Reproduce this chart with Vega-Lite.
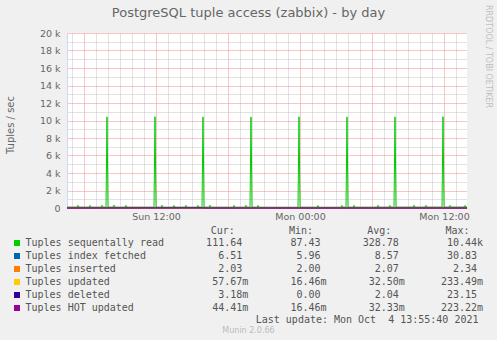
{
  "$schema": "https://vega.github.io/schema/vega-lite/v6.json",
  "width": 400,
  "height": 175,
  "autosize": {"type": "none"},
  "padding": {"left": 67, "top": 33, "right": 30, "bottom": 132},
  "background": "#f0f0f0",
  "config": {"view": {"fill": "white", "stroke": null}, "font": "DejaVu Sans"},
  "title": {
    "text": "PostgreSQL tuple access (zabbix) - by day",
    "font": "DejaVu Sans", "fontSize": 13, "fontWeight": "normal", "color": "#666666",
    "frame": "group", "anchor": "middle", "dx": -18.5, "offset": -16
  },
  "data": {"values": [
    {"time": "2021-10-03T04:35:00Z", "series": "Tuples sequentally read", "value": 108},
    {"time": "2021-10-03T05:25:00Z", "series": "Tuples sequentally read", "value": 102},
    {"time": "2021-10-03T05:30:00Z", "series": "Tuples sequentally read", "value": 310},
    {"time": "2021-10-03T05:35:00Z", "series": "Tuples sequentally read", "value": 104},
    {"time": "2021-10-03T06:25:00Z", "series": "Tuples sequentally read", "value": 99},
    {"time": "2021-10-03T06:30:00Z", "series": "Tuples sequentally read", "value": 295},
    {"time": "2021-10-03T06:35:00Z", "series": "Tuples sequentally read", "value": 101},
    {"time": "2021-10-03T07:25:00Z", "series": "Tuples sequentally read", "value": 103},
    {"time": "2021-10-03T07:30:00Z", "series": "Tuples sequentally read", "value": 320},
    {"time": "2021-10-03T07:35:00Z", "series": "Tuples sequentally read", "value": 100},
    {"time": "2021-10-03T07:50:00Z", "series": "Tuples sequentally read", "value": 98},
    {"time": "2021-10-03T07:55:00Z", "series": "Tuples sequentally read", "value": 10420},
    {"time": "2021-10-03T08:00:00Z", "series": "Tuples sequentally read", "value": 112},
    {"time": "2021-10-03T08:25:00Z", "series": "Tuples sequentally read", "value": 104},
    {"time": "2021-10-03T08:30:00Z", "series": "Tuples sequentally read", "value": 330},
    {"time": "2021-10-03T08:35:00Z", "series": "Tuples sequentally read", "value": 101},
    {"time": "2021-10-03T09:25:00Z", "series": "Tuples sequentally read", "value": 97},
    {"time": "2021-10-03T09:30:00Z", "series": "Tuples sequentally read", "value": 300},
    {"time": "2021-10-03T09:35:00Z", "series": "Tuples sequentally read", "value": 99},
    {"time": "2021-10-03T11:50:00Z", "series": "Tuples sequentally read", "value": 101},
    {"time": "2021-10-03T11:55:00Z", "series": "Tuples sequentally read", "value": 10440},
    {"time": "2021-10-03T12:00:00Z", "series": "Tuples sequentally read", "value": 109},
    {"time": "2021-10-03T12:25:00Z", "series": "Tuples sequentally read", "value": 100},
    {"time": "2021-10-03T12:30:00Z", "series": "Tuples sequentally read", "value": 315},
    {"time": "2021-10-03T12:35:00Z", "series": "Tuples sequentally read", "value": 98},
    {"time": "2021-10-03T13:25:00Z", "series": "Tuples sequentally read", "value": 96},
    {"time": "2021-10-03T13:30:00Z", "series": "Tuples sequentally read", "value": 290},
    {"time": "2021-10-03T13:35:00Z", "series": "Tuples sequentally read", "value": 99},
    {"time": "2021-10-03T14:25:00Z", "series": "Tuples sequentally read", "value": 102},
    {"time": "2021-10-03T14:30:00Z", "series": "Tuples sequentally read", "value": 305},
    {"time": "2021-10-03T14:35:00Z", "series": "Tuples sequentally read", "value": 100},
    {"time": "2021-10-03T15:25:00Z", "series": "Tuples sequentally read", "value": 98},
    {"time": "2021-10-03T15:30:00Z", "series": "Tuples sequentally read", "value": 300},
    {"time": "2021-10-03T15:35:00Z", "series": "Tuples sequentally read", "value": 97},
    {"time": "2021-10-03T15:50:00Z", "series": "Tuples sequentally read", "value": 99},
    {"time": "2021-10-03T15:55:00Z", "series": "Tuples sequentally read", "value": 10410},
    {"time": "2021-10-03T16:00:00Z", "series": "Tuples sequentally read", "value": 108},
    {"time": "2021-10-03T16:25:00Z", "series": "Tuples sequentally read", "value": 101},
    {"time": "2021-10-03T16:30:00Z", "series": "Tuples sequentally read", "value": 320},
    {"time": "2021-10-03T16:35:00Z", "series": "Tuples sequentally read", "value": 100},
    {"time": "2021-10-03T18:25:00Z", "series": "Tuples sequentally read", "value": 95},
    {"time": "2021-10-03T18:30:00Z", "series": "Tuples sequentally read", "value": 300},
    {"time": "2021-10-03T18:35:00Z", "series": "Tuples sequentally read", "value": 98},
    {"time": "2021-10-03T19:25:00Z", "series": "Tuples sequentally read", "value": 97},
    {"time": "2021-10-03T19:30:00Z", "series": "Tuples sequentally read", "value": 310},
    {"time": "2021-10-03T19:35:00Z", "series": "Tuples sequentally read", "value": 96},
    {"time": "2021-10-03T19:50:00Z", "series": "Tuples sequentally read", "value": 98},
    {"time": "2021-10-03T19:55:00Z", "series": "Tuples sequentally read", "value": 10400},
    {"time": "2021-10-03T20:00:00Z", "series": "Tuples sequentally read", "value": 106},
    {"time": "2021-10-03T20:25:00Z", "series": "Tuples sequentally read", "value": 94},
    {"time": "2021-10-03T20:30:00Z", "series": "Tuples sequentally read", "value": 295},
    {"time": "2021-10-03T20:35:00Z", "series": "Tuples sequentally read", "value": 92},
    {"time": "2021-10-03T23:50:00Z", "series": "Tuples sequentally read", "value": 88},
    {"time": "2021-10-03T23:55:00Z", "series": "Tuples sequentally read", "value": 10430},
    {"time": "2021-10-04T00:00:00Z", "series": "Tuples sequentally read", "value": 102},
    {"time": "2021-10-04T01:25:00Z", "series": "Tuples sequentally read", "value": 90},
    {"time": "2021-10-04T01:30:00Z", "series": "Tuples sequentally read", "value": 290},
    {"time": "2021-10-04T01:35:00Z", "series": "Tuples sequentally read", "value": 87.43},
    {"time": "2021-10-04T03:25:00Z", "series": "Tuples sequentally read", "value": 92},
    {"time": "2021-10-04T03:30:00Z", "series": "Tuples sequentally read", "value": 300},
    {"time": "2021-10-04T03:35:00Z", "series": "Tuples sequentally read", "value": 93},
    {"time": "2021-10-04T03:50:00Z", "series": "Tuples sequentally read", "value": 95},
    {"time": "2021-10-04T03:55:00Z", "series": "Tuples sequentally read", "value": 10410},
    {"time": "2021-10-04T04:00:00Z", "series": "Tuples sequentally read", "value": 104},
    {"time": "2021-10-04T04:25:00Z", "series": "Tuples sequentally read", "value": 96},
    {"time": "2021-10-04T04:30:00Z", "series": "Tuples sequentally read", "value": 305},
    {"time": "2021-10-04T04:35:00Z", "series": "Tuples sequentally read", "value": 97},
    {"time": "2021-10-04T06:25:00Z", "series": "Tuples sequentally read", "value": 99},
    {"time": "2021-10-04T06:30:00Z", "series": "Tuples sequentally read", "value": 310},
    {"time": "2021-10-04T06:35:00Z", "series": "Tuples sequentally read", "value": 101},
    {"time": "2021-10-04T07:25:00Z", "series": "Tuples sequentally read", "value": 103},
    {"time": "2021-10-04T07:30:00Z", "series": "Tuples sequentally read", "value": 300},
    {"time": "2021-10-04T07:35:00Z", "series": "Tuples sequentally read", "value": 102},
    {"time": "2021-10-04T07:50:00Z", "series": "Tuples sequentally read", "value": 100},
    {"time": "2021-10-04T07:55:00Z", "series": "Tuples sequentally read", "value": 10420},
    {"time": "2021-10-04T08:00:00Z", "series": "Tuples sequentally read", "value": 110},
    {"time": "2021-10-04T09:25:00Z", "series": "Tuples sequentally read", "value": 104},
    {"time": "2021-10-04T09:30:00Z", "series": "Tuples sequentally read", "value": 320},
    {"time": "2021-10-04T09:35:00Z", "series": "Tuples sequentally read", "value": 105},
    {"time": "2021-10-04T10:25:00Z", "series": "Tuples sequentally read", "value": 106},
    {"time": "2021-10-04T10:30:00Z", "series": "Tuples sequentally read", "value": 310},
    {"time": "2021-10-04T10:35:00Z", "series": "Tuples sequentally read", "value": 107},
    {"time": "2021-10-04T11:50:00Z", "series": "Tuples sequentally read", "value": 108},
    {"time": "2021-10-04T11:55:00Z", "series": "Tuples sequentally read", "value": 10440},
    {"time": "2021-10-04T12:00:00Z", "series": "Tuples sequentally read", "value": 115},
    {"time": "2021-10-04T12:25:00Z", "series": "Tuples sequentally read", "value": 109},
    {"time": "2021-10-04T12:30:00Z", "series": "Tuples sequentally read", "value": 300},
    {"time": "2021-10-04T12:35:00Z", "series": "Tuples sequentally read", "value": 110},
    {"time": "2021-10-04T13:40:00Z", "series": "Tuples sequentally read", "value": 111},
    {"time": "2021-10-04T13:45:00Z", "series": "Tuples sequentally read", "value": 300},
    {"time": "2021-10-04T13:50:00Z", "series": "Tuples sequentally read", "value": 112},
    {"time": "2021-10-04T13:55:00Z", "series": "Tuples sequentally read", "value": 111.64},
    {"time": "2021-10-03T04:35:00Z", "series": "Tuples index fetched", "value": 7.4},
    {"time": "2021-10-03T07:55:00Z", "series": "Tuples index fetched", "value": 30.83},
    {"time": "2021-10-03T08:00:00Z", "series": "Tuples index fetched", "value": 8.1},
    {"time": "2021-10-03T14:00:00Z", "series": "Tuples index fetched", "value": 8.6},
    {"time": "2021-10-03T20:00:00Z", "series": "Tuples index fetched", "value": 7.9},
    {"time": "2021-10-04T02:00:00Z", "series": "Tuples index fetched", "value": 8.9},
    {"time": "2021-10-04T08:00:00Z", "series": "Tuples index fetched", "value": 8.3},
    {"time": "2021-10-04T13:55:00Z", "series": "Tuples index fetched", "value": 6.51},
    {"time": "2021-10-03T04:35:00Z", "series": "Tuples inserted", "value": 2.05},
    {"time": "2021-10-03T12:00:00Z", "series": "Tuples inserted", "value": 2.1},
    {"time": "2021-10-03T20:00:00Z", "series": "Tuples inserted", "value": 2.34},
    {"time": "2021-10-04T04:00:00Z", "series": "Tuples inserted", "value": 2.0},
    {"time": "2021-10-04T13:55:00Z", "series": "Tuples inserted", "value": 2.03},
    {"time": "2021-10-03T04:35:00Z", "series": "Tuples updated", "value": 0.03},
    {"time": "2021-10-03T11:55:00Z", "series": "Tuples updated", "value": 0.233},
    {"time": "2021-10-03T18:00:00Z", "series": "Tuples updated", "value": 0.02},
    {"time": "2021-10-04T04:00:00Z", "series": "Tuples updated", "value": 0.016},
    {"time": "2021-10-04T13:55:00Z", "series": "Tuples updated", "value": 0.0577},
    {"time": "2021-10-03T04:35:00Z", "series": "Tuples deleted", "value": 0.002},
    {"time": "2021-10-03T15:55:00Z", "series": "Tuples deleted", "value": 23.15},
    {"time": "2021-10-03T16:00:00Z", "series": "Tuples deleted", "value": 0.0},
    {"time": "2021-10-04T04:00:00Z", "series": "Tuples deleted", "value": 0.001},
    {"time": "2021-10-04T13:55:00Z", "series": "Tuples deleted", "value": 0.00318},
    {"time": "2021-10-03T04:35:00Z", "series": "Tuples HOT updated", "value": 0.03},
    {"time": "2021-10-03T11:55:00Z", "series": "Tuples HOT updated", "value": 0.223},
    {"time": "2021-10-03T18:00:00Z", "series": "Tuples HOT updated", "value": 0.02},
    {"time": "2021-10-04T04:00:00Z", "series": "Tuples HOT updated", "value": 0.016},
    {"time": "2021-10-04T13:55:00Z", "series": "Tuples HOT updated", "value": 0.0444}
  ]},
  "layer": [
    {
      "mark": {"type": "point", "opacity": 0},
      "encoding": {
        "x": {
          "field": "time", "type": "temporal",
          "scale": {"type": "utc", "nice": false, "domain": [{"year": 2021, "month": 10, "date": 3, "hours": 4, "minutes": 35, "utc": true}, {"year": 2021, "month": 10, "date": 4, "hours": 13, "minutes": 55, "utc": true}]},
          "axis": {
            "orient": "bottom", "grid": true, "gridColor": "#c4c4c4", "gridDash": [1, 1], "gridWidth": 1,
            "labels": false, "ticks": false, "domain": false,
            "values": [
              {"year": 2021, "month": 10, "date": 3, "hours": 5, "utc": true},
              {"year": 2021, "month": 10, "date": 3, "hours": 7, "utc": true},
              {"year": 2021, "month": 10, "date": 3, "hours": 8, "utc": true},
              {"year": 2021, "month": 10, "date": 3, "hours": 9, "utc": true},
              {"year": 2021, "month": 10, "date": 3, "hours": 10, "utc": true},
              {"year": 2021, "month": 10, "date": 3, "hours": 11, "utc": true},
              {"year": 2021, "month": 10, "date": 3, "hours": 13, "utc": true},
              {"year": 2021, "month": 10, "date": 3, "hours": 14, "utc": true},
              {"year": 2021, "month": 10, "date": 3, "hours": 15, "utc": true},
              {"year": 2021, "month": 10, "date": 3, "hours": 16, "utc": true},
              {"year": 2021, "month": 10, "date": 3, "hours": 17, "utc": true},
              {"year": 2021, "month": 10, "date": 3, "hours": 19, "utc": true},
              {"year": 2021, "month": 10, "date": 3, "hours": 20, "utc": true},
              {"year": 2021, "month": 10, "date": 3, "hours": 21, "utc": true},
              {"year": 2021, "month": 10, "date": 3, "hours": 22, "utc": true},
              {"year": 2021, "month": 10, "date": 3, "hours": 23, "utc": true},
              {"year": 2021, "month": 10, "date": 4, "hours": 1, "utc": true},
              {"year": 2021, "month": 10, "date": 4, "hours": 2, "utc": true},
              {"year": 2021, "month": 10, "date": 4, "hours": 3, "utc": true},
              {"year": 2021, "month": 10, "date": 4, "hours": 4, "utc": true},
              {"year": 2021, "month": 10, "date": 4, "hours": 5, "utc": true},
              {"year": 2021, "month": 10, "date": 4, "hours": 7, "utc": true},
              {"year": 2021, "month": 10, "date": 4, "hours": 8, "utc": true},
              {"year": 2021, "month": 10, "date": 4, "hours": 9, "utc": true},
              {"year": 2021, "month": 10, "date": 4, "hours": 10, "utc": true},
              {"year": 2021, "month": 10, "date": 4, "hours": 11, "utc": true},
              {"year": 2021, "month": 10, "date": 4, "hours": 13, "utc": true}
            ],
            "title": "Munin 2.0.66", "titleX": 181, "titleY": 122, "titleAlign": "center", "titleBaseline": "middle",
            "titleFont": "DejaVu Sans", "titleFontSize": 8, "titleFontWeight": "normal", "titleColor": "#bbbbbb"
          }
        },
        "y": {
          "field": "value", "type": "quantitative",
          "scale": {"domain": [0, 20000], "nice": false, "zero": true},
          "axis": {
            "orient": "left", "grid": true, "gridColor": "#c4c4c4", "gridDash": [1, 1], "gridWidth": 1,
            "labels": false, "ticks": false, "domain": false, "title": null,
            "values": [1000, 3000, 5000, 7000, 9000, 11000, 13000, 15000, 17000, 19000]
          }
        }
      }
    },
    {
      "mark": {"type": "point", "opacity": 0},
      "encoding": {
        "x": {
          "field": "time", "type": "temporal",
          "scale": {"type": "utc", "nice": false, "domain": [{"year": 2021, "month": 10, "date": 3, "hours": 4, "minutes": 35, "utc": true}, {"year": 2021, "month": 10, "date": 4, "hours": 13, "minutes": 55, "utc": true}]},
          "axis": {
            "orient": "bottom", "grid": true, "gridColor": "#f08c8c", "gridDash": [1, 1], "gridWidth": 1,
            "labels": false, "ticks": false, "domain": false,
            "values": [
              {"year": 2021, "month": 10, "date": 3, "hours": 6, "utc": true},
              {"year": 2021, "month": 10, "date": 3, "hours": 12, "utc": true},
              {"year": 2021, "month": 10, "date": 3, "hours": 18, "utc": true},
              {"year": 2021, "month": 10, "date": 4, "hours": 0, "utc": true},
              {"year": 2021, "month": 10, "date": 4, "hours": 6, "utc": true},
              {"year": 2021, "month": 10, "date": 4, "hours": 12, "utc": true}
            ],
            "title": "Last update: Mon Oct\u00a0\u00a04 13:55:40 2021", "titleX": 411, "titleY": 111, "titleAlign": "right", "titleBaseline": "middle",
            "titleFont": "DejaVu Sans Mono", "titleFontSize": 10, "titleFontWeight": "normal", "titleColor": "#555555"
          }
        },
        "y": {
          "field": "value", "type": "quantitative",
          "scale": {"domain": [0, 20000], "nice": false, "zero": true},
          "axis": {
            "orient": "left", "grid": true, "gridColor": "#f08c8c", "gridDash": [1, 1], "gridWidth": 1,
            "values": [0, 2000, 4000, 6000, 8000, 10000, 12000, 14000, 16000, 18000, 20000],
            "labelExpr": "datum.value == 0 ? '0' : (datum.value / 1000) + ' k'",
            "labelFont": "DejaVu Sans", "labelFontSize": 9.5, "labelColor": "#666666", "labelPadding": 7,
            "ticks": false, "domain": true, "domainColor": "#cfd6f8", "domainWidth": 1,
            "title": "Tuples / sec", "titleX": -57, "titleY": 91.5, "titleAngle": 270, "titleAlign": "center", "titleBaseline": "middle",
            "titleFont": "DejaVu Sans", "titleFontSize": 10, "titleFontWeight": "normal", "titleColor": "#666666"
          }
        }
      }
    },
    {
      "mark": {"type": "line", "strokeWidth": 1},
      "encoding": {
        "x": {
          "field": "time", "type": "temporal",
          "scale": {"type": "utc", "nice": false, "domain": [{"year": 2021, "month": 10, "date": 3, "hours": 4, "minutes": 35, "utc": true}, {"year": 2021, "month": 10, "date": 4, "hours": 13, "minutes": 55, "utc": true}]},
          "axis": {
            "orient": "bottom", "grid": false, "ticks": false,
            "values": [
              {"year": 2021, "month": 10, "date": 3, "hours": 12, "utc": true},
              {"year": 2021, "month": 10, "date": 4, "hours": 0, "utc": true},
              {"year": 2021, "month": 10, "date": 4, "hours": 12, "utc": true}
            ],
            "labelExpr": "utcFormat(datum.value, '%a %H:%M')",
            "labelFont": "DejaVu Sans", "labelFontSize": 9.5, "labelColor": "#666666", "labelPadding": 3, "labelFlush": false, "labelOverlap": false,
            "domain": true, "domainColor": "#cfd6f8", "domainWidth": 1,
            "title": null
          }
        },
        "y": {
          "field": "value", "type": "quantitative",
          "scale": {"domain": [0, 20000], "nice": false, "zero": true},
          "axis": {
            "orient": "right", "grid": false, "labels": false, "ticks": false, "domain": false,
            "title": "RRDTOOL / TOBI OETIKER", "titleX": 20, "titleY": 23, "titleAngle": 90, "titleAlign": "center", "titleBaseline": "middle",
            "titleFont": "DejaVu Sans", "titleFontSize": 8, "titleFontWeight": "normal", "titleColor": "#bfbfbf"
          }
        },
        "color": {
          "field": "series", "type": "nominal",
          "scale": {
            "domain": ["Tuples sequentally read", "Tuples index fetched", "Tuples inserted", "Tuples updated", "Tuples deleted", "Tuples HOT updated"],
            "range": ["#00cc00", "#0066b3", "#ff8000", "#ffcc00", "#330099", "#990099"]
          },
          "legend": {
            "orient": "none", "legendX": -55, "legendY": 193, "direction": "vertical", "padding": 0,
            "title": "\u200b\u00a0\u00a0\u00a0\u00a0\u00a0\u00a0\u00a0\u00a0\u00a0\u00a0\u00a0\u00a0\u00a0\u00a0\u00a0\u00a0\u00a0\u00a0\u00a0\u00a0\u00a0\u00a0\u00a0\u00a0\u00a0\u00a0\u00a0\u00a0\u00a0\u00a0\u00a0\u00a0\u00a0Cur:\u00a0\u00a0\u00a0\u00a0\u00a0\u00a0\u00a0\u00a0\u00a0Min:\u00a0\u00a0\u00a0\u00a0\u00a0\u00a0\u00a0\u00a0\u00a0Avg:\u00a0\u00a0\u00a0\u00a0\u00a0\u00a0\u00a0\u00a0\u00a0Max:",
            "titleFont": "DejaVu Sans Mono", "titleFontSize": 10, "titleFontWeight": "normal", "titleColor": "#555555", "titleLimit": 1000, "titlePadding": 2,
            "labelFont": "DejaVu Sans Mono", "labelFontSize": 10, "labelColor": "#555555", "labelLimit": 1000, "labelOffset": 3.5,
            "symbolType": "square", "symbolSize": 9, "symbolStrokeWidth": 3, "symbolOpacity": 1, "rowPadding": -6,
            "labelExpr": "datum.label + (datum.label == 'Tuples sequentally read' ? '\u00a0\u00a0\u00a0\u00a0\u00a0\u00a0\u00a0111.64\u00a0\u00a0\u00a0\u00a0\u00a0\u00a0\u00a0\u00a087.43\u00a0\u00a0\u00a0\u00a0\u00a0\u00a0\u00a0328.78\u00a0\u00a0\u00a0\u00a0\u00a0\u00a0\u00a0\u00a010.44k' : datum.label == 'Tuples index fetched' ? '\u00a0\u00a0\u00a0\u00a0\u00a0\u00a0\u00a0\u00a0\u00a0\u00a0\u00a0\u00a06.51\u00a0\u00a0\u00a0\u00a0\u00a0\u00a0\u00a0\u00a0\u00a05.96\u00a0\u00a0\u00a0\u00a0\u00a0\u00a0\u00a0\u00a0\u00a08.57\u00a0\u00a0\u00a0\u00a0\u00a0\u00a0\u00a0\u00a030.83' : datum.label == 'Tuples inserted' ? '\u00a0\u00a0\u00a0\u00a0\u00a0\u00a0\u00a0\u00a0\u00a0\u00a0\u00a0\u00a0\u00a0\u00a0\u00a0\u00a0\u00a02.03\u00a0\u00a0\u00a0\u00a0\u00a0\u00a0\u00a0\u00a0\u00a02.00\u00a0\u00a0\u00a0\u00a0\u00a0\u00a0\u00a0\u00a0\u00a02.07\u00a0\u00a0\u00a0\u00a0\u00a0\u00a0\u00a0\u00a0\u00a02.34' : datum.label == 'Tuples updated' ? '\u00a0\u00a0\u00a0\u00a0\u00a0\u00a0\u00a0\u00a0\u00a0\u00a0\u00a0\u00a0\u00a0\u00a0\u00a0\u00a0\u00a057.67m\u00a0\u00a0\u00a0\u00a0\u00a0\u00a0\u00a016.46m\u00a0\u00a0\u00a0\u00a0\u00a0\u00a0\u00a032.50m\u00a0\u00a0\u00a0\u00a0\u00a0\u00a0233.49m' : datum.label == 'Tuples deleted' ? '\u00a0\u00a0\u00a0\u00a0\u00a0\u00a0\u00a0\u00a0\u00a0\u00a0\u00a0\u00a0\u00a0\u00a0\u00a0\u00a0\u00a0\u00a03.18m\u00a0\u00a0\u00a0\u00a0\u00a0\u00a0\u00a0\u00a00.00\u00a0\u00a0\u00a0\u00a0\u00a0\u00a0\u00a0\u00a0\u00a02.04\u00a0\u00a0\u00a0\u00a0\u00a0\u00a0\u00a0\u00a023.15' : '\u00a0\u00a0\u00a0\u00a0\u00a0\u00a0\u00a0\u00a0\u00a0\u00a0\u00a0\u00a0\u00a044.41m\u00a0\u00a0\u00a0\u00a0\u00a0\u00a0\u00a016.46m\u00a0\u00a0\u00a0\u00a0\u00a0\u00a0\u00a032.33m\u00a0\u00a0\u00a0\u00a0\u00a0\u00a0223.22m')"
          }
        }
      }
    }
  ],
  "resolve": {"axis": {"x": "independent", "y": "independent"}}
}
